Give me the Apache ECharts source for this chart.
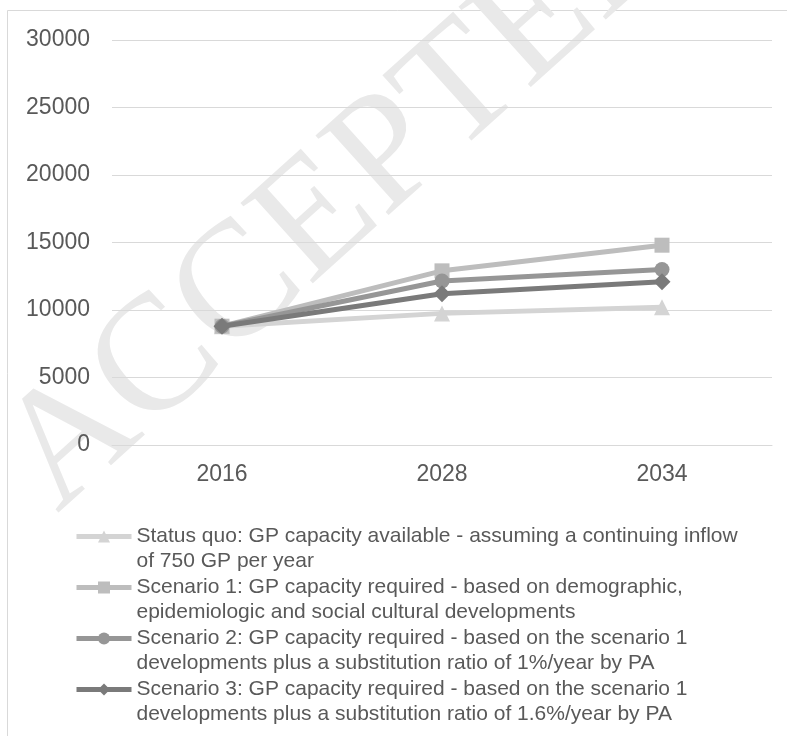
<!DOCTYPE html>
<html>
<head>
<meta charset="utf-8">
<script src="https://cdn.jsdelivr.net/npm/echarts@6/dist/echarts.min.js"></script>
<style>
html,body{margin:0;padding:0;background:#fff;}
#chart{width:787px;height:736px;}
</style>
</head>
<body>
<div id="chart"></div>
<script>
const categories = ['2016', '2028', '2034'];
const yTicks = [0, 5000, 10000, 15000, 20000, 25000, 30000];
const statusQuo = [8800, 9750, 10200];
const scenario1 = [8800, 12900, 14800];
const scenario2 = [8800, 12150, 13000];
const scenario3 = [8800, 11200, 12100];
const seriesNames = [
  'Status quo: GP capacity available - assuming a continuing inflow\nof 750 GP per year',
  'Scenario 1: GP capacity required - based on demographic,\nepidemiologic and social cultural developments',
  'Scenario 2: GP capacity required - based on the scenario 1\ndevelopments plus a substitution ratio of 1%/year by PA',
  'Scenario 3: GP capacity required - based on the scenario 1\ndevelopments plus a substitution ratio of 1.6%/year by PA'
];
const seriesColors = ['#d4d4d4', '#bdbdbd', '#969696', '#7a7a7a'];
const seriesSymbols = ['triangle', 'rect', 'circle', 'diamond'];
const symbolSizes = [16, 15, 15, 17];
const seriesData = [statusQuo, scenario1, scenario2, scenario3];

const chart = echarts.init(document.getElementById('chart'));
const font = '"Liberation Sans", Arial, sans-serif';

const series = seriesData.map((d, i) => ({
  name: seriesNames[i],
  type: 'line',
  data: d,
  symbol: seriesSymbols[i],
  symbolSize: symbolSizes[i],
  showAllSymbol: true,
  lineStyle: { color: seriesColors[i], width: 5 },
  itemStyle: { color: seriesColors[i], borderWidth: 0 },
  emphasis: { disabled: true },
  animation: false,
  z: 3 + i
}));

chart.setOption({
  backgroundColor: '#ffffff',
  animation: false,
  textStyle: { fontFamily: font },
  graphic: [
    {
      type: 'rect',
      shape: { x: 7.5, y: 10.5, width: 900, height: 900 },
      style: { fill: 'none', stroke: '#d9d9d9', lineWidth: 1 },
      z: -10, silent: true
    },
    {
      type: 'text',
      x: 345, y: 196,
      rotation: 42 * Math.PI / 180,
      style: {
        text: 'ACCEPTED',
        fontFamily: '"Liberation Serif", "Times New Roman", serif',
        fontSize: 165,
        fill: '#e9e9e9',
        align: 'center',
        verticalAlign: 'middle'
      },
      z: -5, silent: true
    }
  ],
  grid: { left: 112, right: 15, top: 40, bottom: 291, containLabel: false },
  xAxis: {
    type: 'category',
    data: categories,
    boundaryGap: true,
    axisLine: { show: true, lineStyle: { color: '#d9d9d9', width: 1 } },
    axisTick: { show: false },
    axisLabel: { color: '#595959', fontSize: 23, margin: 18, fontFamily: font }
  },
  yAxis: {
    type: 'value',
    min: yTicks[0],
    max: yTicks[yTicks.length - 1],
    interval: yTicks[1] - yTicks[0],
    axisLine: { show: false },
    axisTick: { show: false },
    splitLine: { show: true, lineStyle: { color: '#d9d9d9', width: 1 } },
    axisLabel: { color: '#595959', fontSize: 23, margin: 22, fontFamily: font,
      formatter: v => String(v) }
  },
  legend: {
    orient: 'vertical',
    left: 74,
    top: 499,
    padding: 0,
    itemWidth: 55,
    itemHeight: 15,
    itemGap: -24,
    selectedMode: false,
    data: seriesNames,
    formatter: name => ' \n' + name,
    lineStyle: { width: 5 },
    textStyle: {
      color: '#595959', fontSize: 21, lineHeight: 25, fontFamily: font
    }
  },
  series: series
});
</script>
</body>
</html>
